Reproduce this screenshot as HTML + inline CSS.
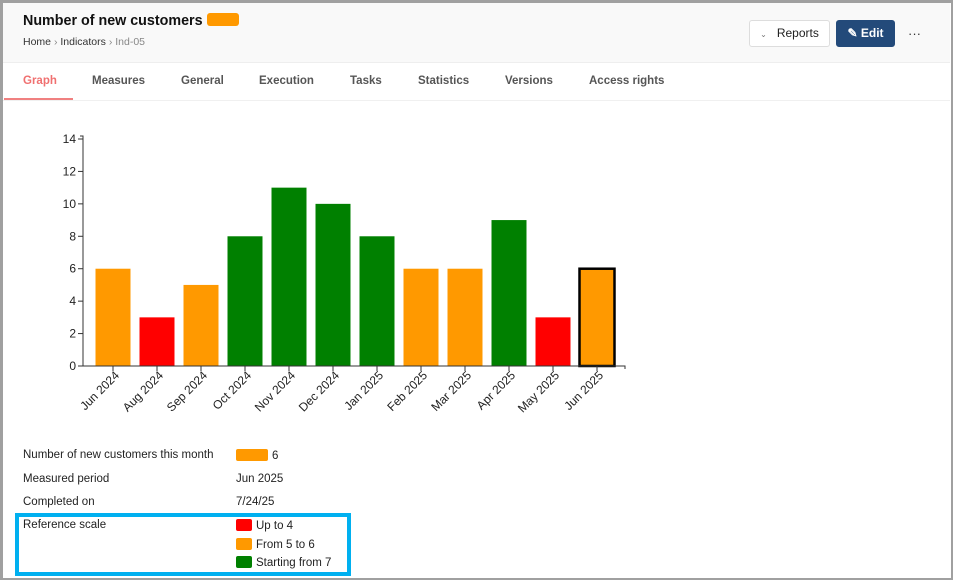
<!DOCTYPE html>
<html><head><meta charset="utf-8">
<style>
*{box-sizing:border-box;margin:0;padding:0}
body{width:953px;height:580px;overflow:hidden;background:#fff;font-family:"Liberation Sans",sans-serif;position:relative}
.frame{position:absolute;left:0;top:0;width:953px;height:580px;border:2px solid #a0a0a0;border-top-width:3px;border-left-width:3px}
.header{position:absolute;left:3px;top:3px;width:947px;height:60px;background:#f9f9f9;border-bottom:1px solid #eee}
.title{position:absolute;left:23px;top:13px;font-size:14.3px;font-weight:bold;color:#111}
.badge{display:inline-block;width:32px;height:13px;background:#ff9900;border-radius:3px;vertical-align:-1px;margin-left:4px}
.crumb{position:absolute;left:23px;top:36px;font-size:10.5px;color:#333}
.crumb span.g{color:#888}
.btn{position:absolute;top:20px;height:27px;border-radius:3px;font-size:12px;line-height:25px;text-align:center}
.reports{left:749px;width:81px;background:#fff;border:1px solid #ddd;color:#222}
.edit{left:836px;width:59px;background:#234a7a;color:#fff;font-weight:bold;border:1px solid #234a7a}
.more{position:absolute;left:908px;top:26px;font-size:13px;color:#333}
.tab{position:absolute;top:75px;font-size:11.5px;font-weight:bold;color:#555}
.uline{position:absolute;left:4px;top:98px;width:69px;height:2px;background:#f08080}
.tabline{position:absolute;left:3px;top:100px;width:947px;height:1px;background:#f0f0f0}
.lbl{position:absolute;left:23px;font-size:11.5px;color:#222}
.val{position:absolute;left:236px;font-size:11.5px;color:#222}
.sw{display:inline-block;width:16px;height:12px;border-radius:2px;vertical-align:-2px;margin-right:4px}
.blue{position:absolute;left:15px;top:513px;width:336px;height:63px;border:4px solid #00b0f0}
</style></head><body>
<div class="header"></div>
<div class="title">Number of new customers<span class="badge"></span></div>
<div class="crumb"><span>Home</span> <span class="g">›</span> <span>Indicators</span> <span class="g">› Ind-05</span></div>
<div class="btn reports"><span style="font-size:8px;color:#777">&#8964;</span>&nbsp;&nbsp; Reports</div>
<div class="btn edit">&#9998; Edit</div>
<div class="more">···</div>
<div class="tab" style="left:23px;color:#f07070">Graph</div>
<div class="tab" style="left:92px">Measures</div>
<div class="tab" style="left:181px">General</div>
<div class="tab" style="left:259px">Execution</div>
<div class="tab" style="left:350px">Tasks</div>
<div class="tab" style="left:418px">Statistics</div>
<div class="tab" style="left:505px">Versions</div>
<div class="tab" style="left:589px">Access rights</div>
<div class="uline"></div>
<div class="tabline"></div>

<svg id="chart" width="953" height="440" style="position:absolute;left:0;top:0"></svg>

<div class="lbl" style="top:449px">Number of new customers this month</div>
<div class="val" style="top:449px"><span class="sw" style="width:32px;background:#ff9900"></span>6</div>
<div class="lbl" style="top:473px">Measured period</div>
<div class="val" style="top:473px">Jun 2025</div>
<div class="lbl" style="top:496px">Completed on</div>
<div class="val" style="top:496px">7/24/25</div>
<div class="lbl" style="top:519px">Reference scale</div>
<div class="val" style="top:519px"><span class="sw" style="background:#ff0000"></span>Up to 4</div>
<div class="val" style="top:538px"><span class="sw" style="background:#ff9900"></span>From 5 to 6</div>
<div class="val" style="top:556px"><span class="sw" style="background:#008000"></span>Starting from 7</div>
<div class="blue"></div>
<div class="frame"></div>

<script>
const categories=["Jun 2024","Aug 2024","Sep 2024","Oct 2024","Nov 2024","Dec 2024","Jan 2025","Feb 2025","Mar 2025","Apr 2025","May 2025","Jun 2025"];
const values=[6,3,5,8,11,10,8,6,6,9,3,6];
const yTicks=[0,2,4,6,8,10,12,14];
const NS="http://www.w3.org/2000/svg";
const svg=document.getElementById('chart');
const x0=83,x1=625,y0=366,yTop=139,yMax=14;
const band=44,pad=8;
function xs(i){return x0+pad+band*i+band/2;}
function ys(v){return y0-(y0-yTop)*v/yMax;}
function color(v){return v<=4?"#ff0000":(v<=6?"#ff9900":"#008000");}
function mk(t,a){const e=document.createElementNS(NS,t);for(const k in a)e.setAttribute(k,a[k]);svg.appendChild(e);return e;}
values.forEach((v,i)=>{
  const last=i===values.length-1;
  const r=mk('rect',{x:xs(i)-17.5,y:ys(v),width:35,height:y0-ys(v),fill:color(v),stroke:last?"#000":"none","stroke-width":last?2.5:0});
  
  
});
const ax=mk('path',{d:`M${x0-3},${yTop-3}H${x0}V${y0}H${x1}V${y0+3}`,fill:"none",stroke:"#333","stroke-width":1});


yTicks.forEach(t=>{
  mk('line',{x1:x0-5,x2:x0,y1:ys(t),y2:ys(t),stroke:"#333"});
  const tx=mk('text',{x:x0-7,y:ys(t)+4,"text-anchor":"end","font-size":12,fill:"#222","font-family":"Liberation Sans, sans-serif"});
  tx.textContent=t;
  
  
});
categories.forEach((c,i)=>{
  mk('line',{x1:xs(i),x2:xs(i),y1:y0,y2:y0+5,stroke:"#333"});
  const tx=mk('text',{x:0,y:0,"text-anchor":"end","font-size":12,fill:"#222","font-family":"Liberation Sans, sans-serif",transform:`translate(${xs(i)+7},${y0+10}) rotate(-45)`});
  tx.textContent=c;
  
  
});
</script>
</body></html>
